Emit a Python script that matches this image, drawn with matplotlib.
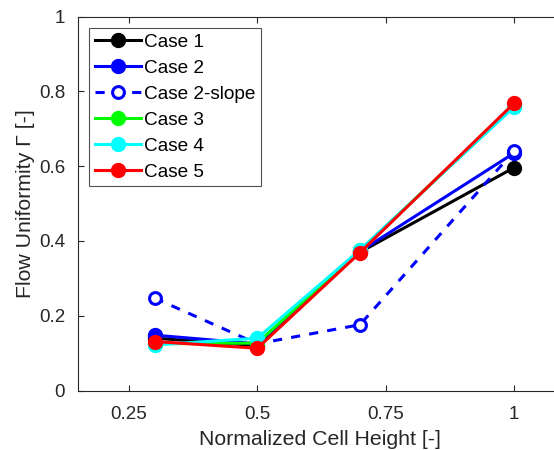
import matplotlib
matplotlib.use("Agg")
import matplotlib.pyplot as plt

x = [0.3, 0.5, 0.7, 1.0]
case1 = [0.140, 0.120, 0.370, 0.596]
case2 = [0.148, 0.125, 0.372, 0.635]
case2_slope = [0.247, 0.125, 0.176, 0.640]
case3 = [0.125, 0.127, 0.375, 0.760]
case4 = [0.122, 0.140, 0.376, 0.758]
case5 = [0.131, 0.113, 0.369, 0.768]
labels = ["Case 1", "Case 2", "Case 2-slope", "Case 3", "Case 4", "Case 5"]
xticks = [0.25, 0.5, 0.75, 1.0]
xticklabels = ["0.25", "0.5", "0.75", "1"]
yticks = [0, 0.2, 0.4, 0.6, 0.8, 1.0]
yticklabels = ["0", "0.2", "0.4", "0.6", "0.8", "1"]

plt.rcParams['font.family'] = ['Liberation Sans', 'DejaVu Sans']
gray = (0.15, 0.15, 0.15)

fig = plt.figure(figsize=(5.54, 4.5), dpi=100)
ax = fig.add_axes([0.1403, 0.1322, 0.880, 0.8307])

lw = 2.2
ms = 10
ax.plot(x, case1, '-o', color='k', lw=lw, ms=ms, label=labels[0])
ax.plot(x, case2, '-o', color=(0, 0, 1), lw=lw, ms=ms, label=labels[1])
ax.plot(x, case2_slope, '--o', color=(0, 0, 1), lw=lw, ms=8.5, mfc='white',
        mew=2.2, dashes=(3, 3), label=labels[2])
ax.plot(x, case3, '-o', color=(0, 1, 0), lw=lw, ms=ms, label=labels[3])
ax.plot(x, case4, '-o', color=(0, 1, 1), lw=lw, ms=ms, label=labels[4])
ax.plot(x, case5, '-o', color=(1, 0, 0), lw=lw, ms=ms, label=labels[5])

ax.set_xlim(0.15, 1.1)
ax.set_ylim(0, 1)
ax.set_xticks(xticks)
ax.set_xticklabels(xticklabels)
ax.set_yticks(yticks)
ax.set_yticklabels(yticklabels)
ax.tick_params(direction='in', length=4, width=0.8, colors=gray, labelsize=13.5,
               top=True, right=True)
ax.tick_params(axis='x', pad=11)
ax.tick_params(axis='y', pad=9)
for s in ax.spines.values():
    s.set_color(gray)
    s.set_linewidth(0.8)

ax.set_xlabel("Normalized Cell Height [-]", fontsize=15.3, color=gray)
ax.xaxis.label.set_va('baseline')
ax.xaxis.set_label_coords(0.497, -0.146)
ax.set_ylabel("Flow Uniformity Γ [-]", fontsize=15.3, color=gray)
ax.yaxis.label.set_va('center')
ax.yaxis.set_label_coords(-0.108, 0.5)

leg = ax.legend(loc='upper left', bbox_to_anchor=(0.0, 1.0),
                fontsize=13.7, frameon=True, fancybox=False, edgecolor=gray,
                handlelength=2.4, handletextpad=0.2, labelspacing=0.45,
                borderpad=0.3, borderaxespad=0.6)
leg.get_frame().set_linewidth(0.8)

fig.savefig("out.png", dpi=100)
